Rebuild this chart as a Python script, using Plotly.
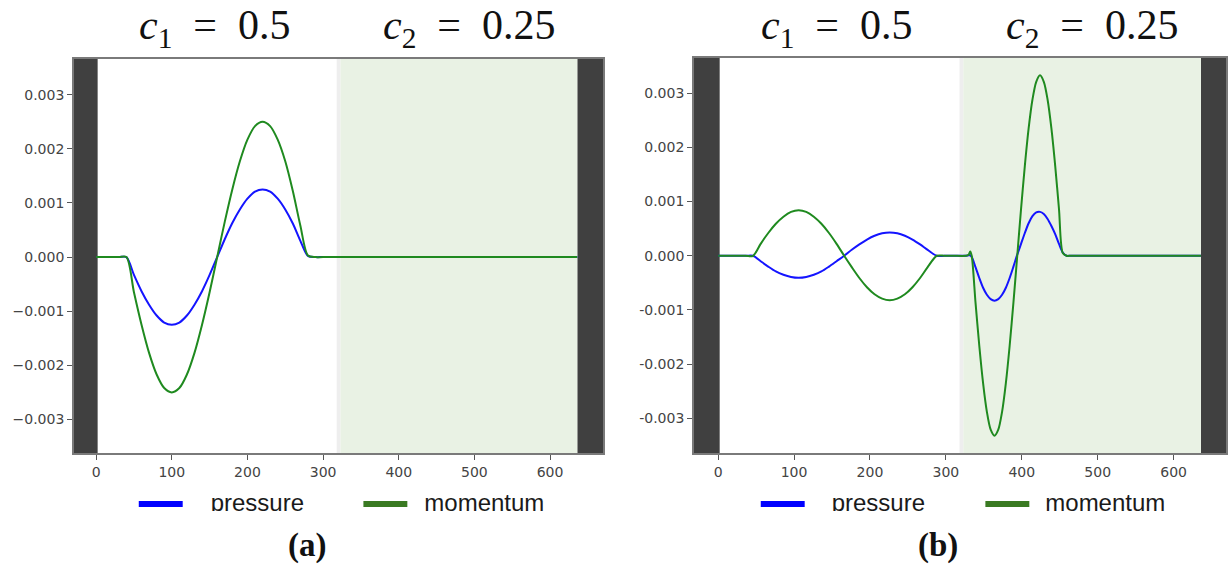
import plotly.graph_objects as go

# ---------------------------------------------------------------------------
# Data (values in units of 1e-3)
# ---------------------------------------------------------------------------
SCALE = 1e-3

# Panel (a): a single pulse travelling in the c1 = 0.5 medium
x_a = [0, 30, 40, 50, 60, 70, 80, 90, 100, 110, 120, 130, 140, 150, 160,
       170, 180, 190, 200, 210, 220, 230, 240, 250, 260, 270, 280, 290,
       300, 620, 636]
pressure_a = [0, 0, 0, -0.33, -0.63, -0.88, -1.08, -1.21, -1.25, -1.21, -1.08,
              -0.88, -0.63, -0.33, 0.0, 0.33, 0.63, 0.88, 1.08, 1.21, 1.25,
              1.21, 1.08, 0.88, 0.62, 0.30, 0.02, 0, 0, 0, 0]
momentum_a = [0, 0, 0, -0.65, -1.25, -1.77, -2.17, -2.42, -2.50, -2.42, -2.17,
              -1.77, -1.25, -0.65, 0.0, 0.65, 1.25, 1.77, 2.17, 2.42, 2.50,
              2.42, 2.17, 1.77, 1.22, 0.58, 0.03, 0, 0, 0, 0]

# Panel (b): reflected pulse (left) and transmitted pulse (right, c2 = 0.25)
x_b = [0, 36, 46, 56, 66, 76, 86, 96, 106, 116, 126, 136, 146, 156, 166,
       176, 186, 196, 206, 216, 226, 236, 246, 256, 266, 276, 288, 298,
       310, 326, 330, 332, 334, 339, 344, 349, 354, 359, 364, 369, 374, 379,
       384, 389, 394, 399, 404, 409, 414, 419, 424, 429, 434, 439, 444, 449,
       454, 459, 464, 474, 620, 636]
pressure_b = [0, 0, 0, -0.10, -0.20, -0.29, -0.35, -0.39, -0.405, -0.39, -0.35,
              -0.29, -0.20, -0.10, 0.0, 0.11, 0.21, 0.30, 0.37, 0.415, 0.43,
              0.415, 0.37, 0.30, 0.21, 0.11, 0.0, 0,
              0, 0, 0.01, 0.01, -0.02, -0.21, -0.41, -0.59, -0.72, -0.80, -0.83,
              -0.80, -0.72, -0.59, -0.41, -0.20, 0.02, 0.22, 0.42, 0.60, 0.73,
              0.80, 0.81, 0.77, 0.68, 0.55, 0.40, 0.22, 0.06, 0.0, 0, 0, 0, 0]
momentum_b = [0, 0, 0, 0.22, 0.42, 0.59, 0.72, 0.81, 0.84, 0.81, 0.72,
              0.59, 0.42, 0.22, 0.0, -0.21, -0.41, -0.58, -0.71, -0.79, -0.82,
              -0.79, -0.71, -0.58, -0.41, -0.21, 0.0, 0,
              0, 0, 0.02, 0.08, 0.0, -0.86, -1.66, -2.35, -2.88, -3.21, -3.32,
              -3.21, -2.88, -2.35, -1.66, -0.86, 0.0, 0.86, 1.66, 2.35, 2.88,
              3.21, 3.33, 3.21, 2.88, 2.35, 1.66, 0.86, 0.05, 0, 0, 0, 0, 0]

# Tick labels
x_tick_vals = [0, 100, 200, 300, 400, 500, 600]
x_tick_text = ["0", "100", "200", "300", "400", "500", "600"]
y_tick_vals = [-0.003, -0.002, -0.001, 0.0, 0.001, 0.002, 0.003]
y_tick_text_a = ["\u22120.003", "\u22120.002", "\u22120.001", "0.000",
                 "0.001", "0.002", "0.003"]
y_tick_text_b = ["-0.003", "-0.002", "-0.001", "0.000",
                 "0.001", "0.002", "0.003"]

# Medium boundaries along x
DOMAIN_END = 636
INTERFACE = 323

series_names = ["pressure", "momentum"]

# ---------------------------------------------------------------------------
# Styling
# ---------------------------------------------------------------------------
W, H = 1228, 565
BLUE = "#1414ff"
GREEN = "#1f8a1f"
LEG_BLUE = "#0000ff"
LEG_GREEN = "#3a7a22"
DARK = "#404040"
LIGHT_GREEN = "#e9f2e4"


def fx(p):
    return p / W


def fy(p):
    return 1 - p / H


fig = go.Figure()

for xs, p, m, xa, ya in [(x_a, pressure_a, momentum_a, "x", "y"),
                         (x_b, pressure_b, momentum_b, "x2", "y2")]:
    fig.add_trace(go.Scatter(
        x=xs, y=[v * SCALE for v in p], mode="lines",
        line=dict(color=BLUE, width=2, shape="spline", smoothing=0.8),
        xaxis=xa, yaxis=ya, showlegend=False, hoverinfo="skip"))
    fig.add_trace(go.Scatter(
        x=xs, y=[v * SCALE for v in m], mode="lines",
        line=dict(color=GREEN, width=2, shape="spline", smoothing=0.8),
        xaxis=xa, yaxis=ya, showlegend=False, hoverinfo="skip"))

axis_common = dict(
    showline=True, mirror=True, linecolor="#7a7a7a", linewidth=1.5,
    ticks="outside", ticklen=5, tickwidth=1, tickcolor="#555",
    tickfont=dict(family="DejaVu Sans", size=14, color="#444"),
    showgrid=False, zeroline=False, fixedrange=True,
)

layout = dict(
    width=W, height=H,
    margin=dict(l=0, r=0, t=0, b=0),
    paper_bgcolor="white", plot_bgcolor="white",
    xaxis=dict(domain=[fx(74), fx(604)], range=[-29.4, 670],
               tickvals=x_tick_vals, ticktext=x_tick_text, anchor="y",
               **axis_common),
    yaxis=dict(domain=[fy(453), fy(59)], range=[-0.00362, 0.00366],
               tickvals=y_tick_vals, ticktext=y_tick_text_a, anchor="x",
               **axis_common),
    xaxis2=dict(domain=[fx(695), 1.0], range=[-32, 669],
                tickvals=x_tick_vals, ticktext=x_tick_text, anchor="y2",
                **axis_common),
    yaxis2=dict(domain=[fy(453), fy(58)], range=[-0.00364, 0.00365],
                tickvals=y_tick_vals, ticktext=y_tick_text_b, anchor="x2",
                **axis_common),
    # strips holding the key below each panel (pixel coordinates)
    xaxis3=dict(domain=[fx(74), fx(604)], range=[74, 604], visible=False,
                anchor="y3", fixedrange=True),
    yaxis3=dict(domain=[fy(511), fy(482)], range=[511, 482], visible=False,
                anchor="x3", fixedrange=True),
    xaxis4=dict(domain=[fx(695), 1.0], range=[695, 1228], visible=False,
                anchor="y4", fixedrange=True),
    yaxis4=dict(domain=[fy(511), fy(482)], range=[511, 482], visible=False,
                anchor="x4", fixedrange=True),
)
fig.update_layout(**layout)

# Background regions: absorbing layers (dark) and the slow medium (green)
shapes = []
for xr, yr in [("x", "y domain"), ("x2", "y2 domain")]:
    shapes.append(dict(type="rect", xref=xr, yref=yr, x0=-40, x1=2, y0=0, y1=1,
                       fillcolor=DARK, line=dict(width=0), layer="below"))
    shapes.append(dict(type="rect", xref=xr, yref=yr, x0=DOMAIN_END, x1=700,
                       y0=0, y1=1, fillcolor=DARK, line=dict(width=0),
                       layer="below"))
    shapes.append(dict(type="rect", xref=xr, yref=yr, x0=INTERFACE - 5,
                       x1=INTERFACE, y0=0, y1=1, fillcolor="#eeeeee",
                       line=dict(width=0), layer="below"))
    shapes.append(dict(type="rect", xref=xr, yref=yr, x0=INTERFACE,
                       x1=DOMAIN_END, y0=0, y1=1, fillcolor=LIGHT_GREEN,
                       line=dict(width=0), layer="below"))
fig.update_layout(shapes=shapes)

# Keys below the panels
key_layout = [
    ("x3", "y3", (139, 183), 211, (364, 408), 425),
    ("x4", "y4", (762, 806), 833, (987, 1031), 1047),
]
for xa, ya, pbar, ptxt, mbar, mtxt in key_layout:
    for bar, txt, col, name in [(pbar, ptxt, LEG_BLUE, series_names[0]),
                                (mbar, mtxt, LEG_GREEN, series_names[1])]:
        fig.add_trace(go.Scatter(
            x=list(bar), y=[504, 504], mode="lines",
            line=dict(color=col, width=6), xaxis=xa, yaxis=ya,
            showlegend=False, hoverinfo="skip"))
        fig.add_trace(go.Scatter(
            x=[txt], y=[505], mode="text", text=[name],
            textposition="middle right", cliponaxis=True,
            textfont=dict(family="Liberation Sans", size=24, color="#1a1a1a"),
            xaxis=xa, yaxis=ya, showlegend=False, hoverinfo="skip"))

# Wave-speed headings and panel labels
serif = dict(family="Liberation Serif", size=42, color="#111")
annotations = []
for cx, txt in [(215, "<i>c</i><sub>1</sub>&nbsp;&nbsp;=&nbsp;&nbsp;0.5"),
                (470, "<i>c</i><sub>2</sub>&nbsp;&nbsp;=&nbsp;&nbsp;0.25"),
                (838, "<i>c</i><sub>1</sub>&nbsp;&nbsp;=&nbsp;&nbsp;0.5"),
                (1094, "<i>c</i><sub>2</sub>&nbsp;&nbsp;=&nbsp;&nbsp;0.25")]:
    annotations.append(dict(x=fx(cx), y=1.0, xref="paper", yref="paper",
                            text=txt, showarrow=False, xanchor="center",
                            yanchor="top", font=serif))
for cx, txt in [(307, "<b>(a)</b>"), (940, "<b>(b)</b>")]:
    annotations.append(dict(x=fx(cx), y=fy(545), xref="paper", yref="paper",
                            text=txt, showarrow=False, xanchor="center",
                            yanchor="middle",
                            font=dict(family="Liberation Serif", size=33,
                                      color="#111")))
fig.update_layout(annotations=annotations)

fig.write_html("out.html", config={"displayModeBar": False})
